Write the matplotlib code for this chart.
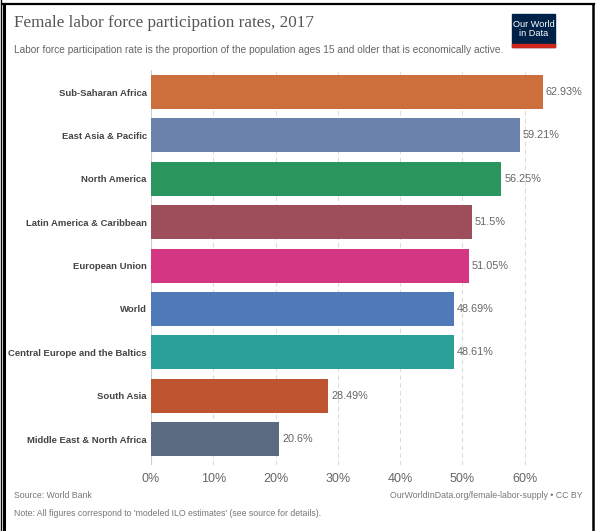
import matplotlib
matplotlib.use("Agg")
import matplotlib.pyplot as plt
from matplotlib.lines import Line2D
from matplotlib.patches import Rectangle

W, H = 605, 531

categories = ["Sub-Saharan Africa", "East Asia & Pacific", "North America",
              "Latin America & Caribbean", "European Union", "World",
              "Central Europe and the Baltics", "South Asia",
              "Middle East & North Africa"]
values = [62.93, 59.21, 56.25, 51.5, 51.05, 48.69, 48.61, 28.49, 20.6]
value_labels = ["62.93%", "59.21%", "56.25%", "51.5%", "51.05%", "48.69%",
                "48.61%", "28.49%", "20.6%"]
colors = ["#CC6F3C", "#6B82AC", "#2B9560", "#9D4E5A", "#D53684", "#5079B8",
          "#2BA098", "#BE5430", "#5A6A80"]
xticks = [0, 10, 20, 30, 40, 50, 60]
xtick_labels = ["0%", "10%", "20%", "30%", "40%", "50%", "60%"]

sans = ["Liberation Sans", "DejaVu Sans"]
serif = ["Liberation Serif", "DejaVu Serif"]

fig = plt.figure(figsize=(W / 100, H / 100), dpi=100)

def fx(px):
    return px / W

def fy(py):
    return 1 - py / H

# axes placement in pixels
ax_left, ax_right = 151, 151 + 62.3 * 7
ax_top, ax_bottom = 70, 465
ax = fig.add_axes([fx(ax_left), fy(ax_bottom), fx(ax_right) - fx(ax_left),
                   fy(ax_top) - fy(ax_bottom)])

row0, step = 92, 43.4
ypos = list(range(len(categories)))
ax.set_xlim(0, 70)
ax.set_ylim((ax_bottom - row0) / step, -(row0 - ax_top) / step)

for xt in xticks[1:]:
    ax.axvline(xt, color="#dddddd", lw=0.8, ls=(0, (4, 3)), zorder=0)
ax.axvline(0, color="#cccccc", lw=0.8, zorder=0)

ax.barh(ypos, values, height=34 / step, color=colors, zorder=2)
for y, v, lab in zip(ypos, values, value_labels):
    ax.text(v + 0.45, y, lab, va="center", ha="left", fontsize=7.8,
            color="#666666", family=sans, clip_on=False)

ax.set_yticks(ypos)
ax.set_yticklabels(categories, fontsize=6.8, fontweight="bold", color="#444444",
                   family=sans)
ax.set_xticks(xticks)
ax.set_xticklabels(xtick_labels, fontsize=9, color="#666666", family=sans)
ax.tick_params(axis="both", length=0)
ax.tick_params(axis="y", pad=3)
ax.tick_params(axis="x", pad=6)
for s in ax.spines.values():
    s.set_visible(False)
ax.patch.set_alpha(0)

# title and subtitle
fig.text(fx(14), fy(23), "Female labor force participation rates, 2017",
         family=serif, fontsize=12.3, color="#555555", va="center", ha="left")
fig.text(fx(14), fy(50),
         "Labor force participation rate is the proportion of the population ages 15 and older that is economically active.",
         family=sans, fontsize=7.3, color="#666666", va="center", ha="left")

# logo
fig.patches.append(Rectangle((fx(512), fy(47)), fx(555) - fx(512), fy(14) - fy(47),
                             transform=fig.transFigure, color="#002147"))
fig.patches.append(Rectangle((fx(512), fy(47)), fx(555) - fx(512), fy(44) - fy(47),
                             transform=fig.transFigure, color="#CE261E"))
fig.text(fx(533.5), fy(29), "Our World\nin Data", family=sans, fontsize=6.6,
         color="white", ha="center", va="center", linespacing=1.05)

# footer
fig.text(fx(14), fy(495), "Source: World Bank", family=sans, fontsize=6.3,
         color="#777777", va="center", ha="left")
fig.text(fx(14), fy(513),
         "Note: All figures correspond to 'modeled ILO estimates' (see source for details).",
         family=sans, fontsize=6.3, color="#777777", va="center", ha="left")
fig.text(fx(583), fy(495), "OurWorldInData.org/female-labor-supply \u2022 CC BY",
         family=sans, fontsize=6.3, color="#777777", va="center", ha="right")

# frame lines
fig.lines.append(Line2D([fx(0.5), fx(0.5)], [0, 1], transform=fig.transFigure,
                        color="black", lw=1.0))
fig.lines.append(Line2D([fx(4), fx(4)], [0, fy(3.5)], transform=fig.transFigure,
                        color="black", lw=2.2))
fig.lines.append(Line2D([fx(3), fx(594)], [fy(4), fy(4)], transform=fig.transFigure,
                        color="black", lw=1.6))
fig.lines.append(Line2D([fx(593), fx(593)], [0, fy(3.5)], transform=fig.transFigure,
                        color="black", lw=1.8))

fig.savefig("out.png", dpi=100)
